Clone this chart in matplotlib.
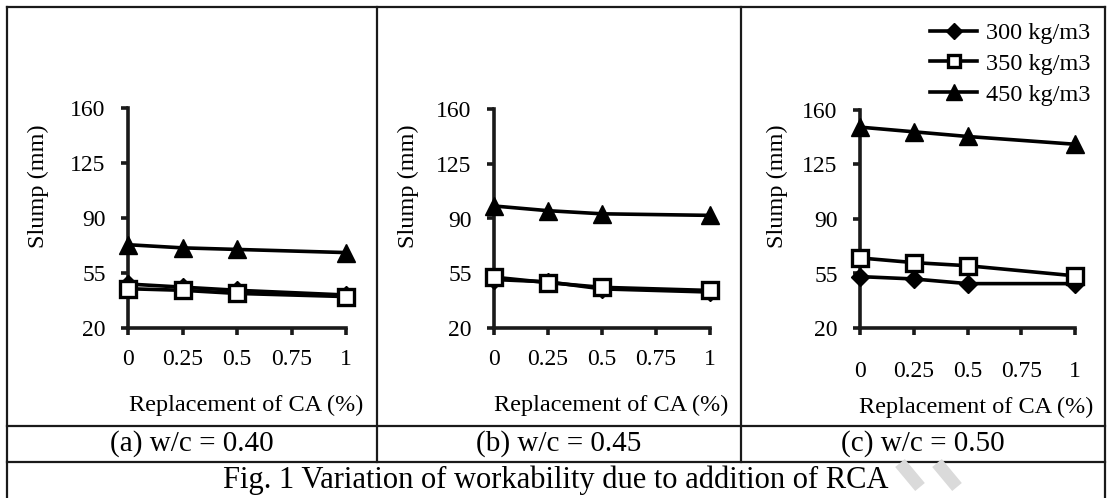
import matplotlib
matplotlib.use("Agg")
import matplotlib.pyplot as plt
from matplotlib.lines import Line2D

plt.rcParams['font.family'] = ['Liberation Serif', 'DejaVu Serif']

W, H = 1107, 498

replacement = [0, 0.25, 0.5, 1]
x_ticks = [0, 0.25, 0.5, 0.75, 1]
x_tick_labels = ["0", "0.25", "0.5", "0.75", "1"]
y_ticks = [20, 55, 90, 125, 160]

# slump (mm)
s300_a = [48, 46, 44, 41]
s350_a = [45, 44, 42, 40]
s450_a = [73, 71, 70, 68]

s300_b = [51, 49.5, 45, 43]
s350_b = [52.5, 49, 46, 44]
s450_b = [98, 95, 93, 92]

s300_c = [53, 51.5, 48.5, 48.5]
s350_c = [65, 62, 60, 53.5]
s450_c = [149, 146, 143, 138]

series_labels = ["300 kg/m3", "350 kg/m3", "450 kg/m3"]
panel_titles = ["(a) w/c = 0.40", "(b) w/c = 0.45", "(c) w/c = 0.50"]
xlabel = "Replacement of CA (%)"
ylabel = "Slump (mm)"
caption = "Fig. 1 Variation of workability due to addition of RCA"


def fx(px):
    return px / W


def fy(py):
    return 1 - py / H


fig = plt.figure(figsize=(W / 100, H / 100), dpi=100)

# table frame
frame = dict(color="#1a1a1a", lw=1.6, transform=fig.transFigure)
for x in (7, 1105):
    fig.add_artist(Line2D([fx(x), fx(x)], [fy(7), fy(498)], **frame))
for x in (377, 741):
    fig.add_artist(Line2D([fx(x), fx(x)], [fy(7), fy(462)], **frame))
for y in (7, 426, 462):
    fig.add_artist(Line2D([fx(7), fx(1105)], [fy(y), fy(y)], **frame))

# faint watermark strokes
for x0 in (900, 937):
    fig.add_artist(Line2D([fx(x0), fx(x0 + 20)], [fy(463), fy(487)],
                          color="#dadada", lw=9, solid_capstyle="butt",
                          transform=fig.transFigure))

boxes = [(128, 346, 108), (494, 710, 109), (860, 1075, 110)]
data = [(s300_a, s350_a, s450_a), (s300_b, s350_b, s450_b), (s300_c, s350_c, s450_c)]
xpads = [10, 10, 19]
xlabel_pos = [(363, 405), (728, 405), (1093, 407)]
ylabel_x = [38, 408, 777]
title_x = [192, 559, 923]

for i, ((l, r, t), (s300, s350, s450)) in enumerate(zip(boxes, data)):
    ax = fig.add_axes([fx(l), fy(328), (r - l) / W, (328 - t) / H])
    ax.plot(replacement, s300, color="k", lw=2.6, marker="D", ms=9,
            mfc="k", mec="k", clip_on=False, zorder=3, label=series_labels[0])
    ax.plot(replacement, s350, color="k", lw=2.6, marker="s", ms=11,
            mfc="white", mec="k", mew=2.4, clip_on=False, zorder=4, label=series_labels[1])
    ax.plot(replacement, s450, color="k", lw=2.6, marker="^", ms=13,
            mfc="k", mec="k", clip_on=False, zorder=3, label=series_labels[2])
    ax.set_xlim(0, 1)
    ax.set_ylim(20, 160)
    ax.set_xticks(x_ticks)
    ax.set_xticklabels(x_tick_labels)
    ax.set_yticks(y_ticks)
    for side in ("top", "right"):
        ax.spines[side].set_visible(False)
    for side in ("left", "bottom"):
        ax.spines[side].set_linewidth(2.6)
        ax.spines[side].set_color("#1a1a1a")
    ax.tick_params(axis="both", direction="out", length=5, width=2.6,
                   color="#1a1a1a", labelsize=17)
    ax.tick_params(axis="x", pad=10 if i < 2 else 19)
    ax.tick_params(axis="y", pad=11)
    ax.patch.set_visible(False)

    fig.text(fx(xlabel_pos[i][0]), fy(xlabel_pos[i][1]), xlabel,
             ha="right", va="center", fontsize=17.5)
    fig.text(fx(ylabel_x[i]), fy(186), ylabel, rotation=90,
             ha="center", va="center", fontsize=17.5)
    fig.text(fx(title_x[i]), fy(444), panel_titles[i],
             ha="center", va="center", fontsize=21)

    if i == 2:
        ax.legend(loc="upper left", bbox_to_anchor=(fx(930), fy(22)),
                  bbox_transform=fig.transFigure, frameon=False,
                  fontsize=17.5, handlelength=1.95, handletextpad=0.35,
                  borderpad=0, borderaxespad=0, labelspacing=0.36,
                  markerscale=0.85)

fig.text(fx(556), fy(480), caption, ha="center", va="center", fontsize=22)

fig.savefig("out.png", dpi=100)
